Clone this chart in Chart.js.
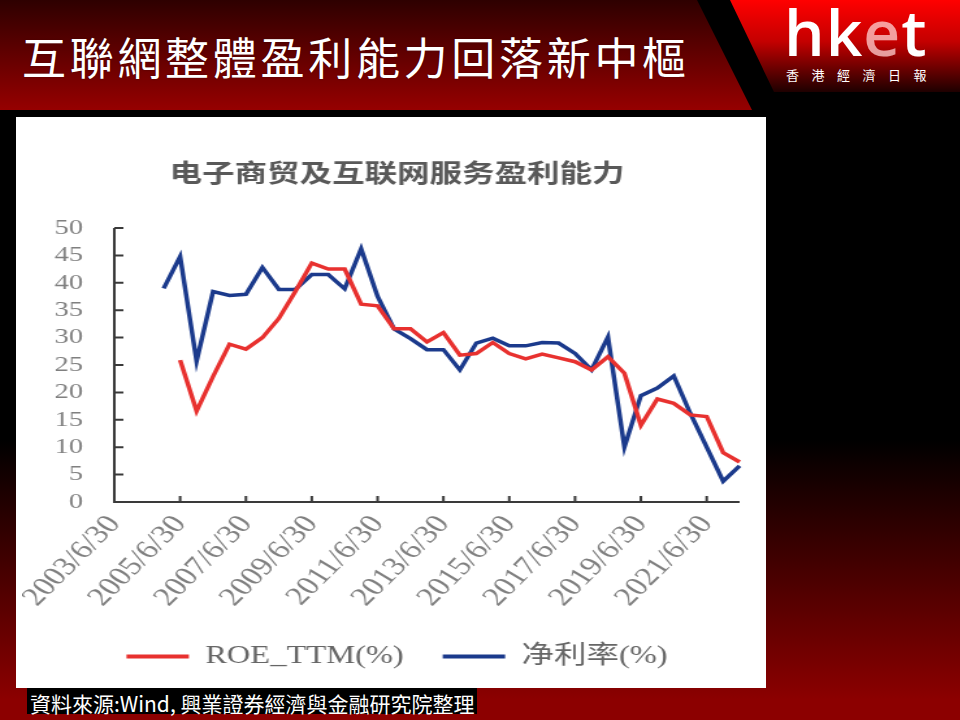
<!DOCTYPE html>
<html>
<head>
<meta charset="utf-8">
<script src="https://cdn.jsdelivr.net/npm/chart.js@4.4.0/dist/chart.umd.min.js"></script>
<style>
  html, body { margin: 0; padding: 0; }
  body {
    width: 960px; height: 720px; position: relative; overflow: hidden;
    background: linear-gradient(to bottom, #000 0px, #000 440px, #8c0000 700px, #8c0000 720px);
  }
  .band {
    position: absolute; left: 0; top: 0; width: 960px; height: 110px;
    clip-path: polygon(0 0, 697px 0, 752px 110px, 0 110px);
    background: linear-gradient(to bottom, #2e0000, #960000);
  }
  .logo-band {
    position: absolute; left: 0; top: 0; width: 960px; height: 92px;
    clip-path: polygon(730px 0, 960px 0, 960px 92px, 774px 92px);
    background: linear-gradient(to bottom, #ff0000 0%, #c40000 45%, #1e0000 100%);
  }
  #headline {
    position: absolute; left: 22px; top: 26px; color: #fff;
    font: 44px "Noto Sans CJK TC", sans-serif; letter-spacing: 3.7px; line-height: 60px;
    text-shadow: 0 0 2px #400;
  }
  #logo {
    position: absolute; left: 784px; top: -8px; color: #fff;
    font: 600 64px "Open Sans", sans-serif; letter-spacing: 1px; line-height: 80px;
  }
  #logo span { color: rgba(255, 210, 210, 0.75); }
  #logo-sub {
    position: absolute; left: 786px; top: 66px; color: #fff;
    font: 13px "Noto Sans CJK TC", sans-serif; letter-spacing: 12.5px; line-height: 18px;
  }
  .panel {
    position: absolute; left: 16px; top: 117px; width: 750px; height: 571px; background: #fff;
  }
  .chart-box {
    position: absolute; left: 22px; top: 117px; width: 577px; height: 562px;
    transform: scaleX(1.3); transform-origin: 0 0;
  }
  #source {
    position: absolute; left: 27px; top: 688px; height: 26px; line-height: 26px;
    background: #000; color: #fff; padding: 0 3px;
    font: 21px "Noto Sans CJK TC", sans-serif;
  }
</style>
</head>
<body>
<div class="band"></div>
<div class="logo-band"></div>
<div id="headline">互聯網整體盈利能力回落新中樞</div>
<div id="logo">hk<span>e</span>t</div>
<div id="logo-sub">香港經濟日報</div>
<div class="panel"></div>
<div class="chart-box"><canvas id="chart" width="577" height="562"></canvas></div>
<div id="source">資料來源:Wind, 興業證券經濟與金融研究院整理</div>

<script>
// semi-annual periods
const categories = [
    "2003/6/30", "2003/12/31", "2004/6/30", "2004/12/31", "2005/6/30", "2005/12/31",
    "2006/6/30", "2006/12/31", "2007/6/30", "2007/12/31", "2008/6/30", "2008/12/31",
    "2009/6/30", "2009/12/31", "2010/6/30", "2010/12/31", "2011/6/30", "2011/12/31",
    "2012/6/30", "2012/12/31", "2013/6/30", "2013/12/31", "2014/6/30", "2014/12/31",
    "2015/6/30", "2015/12/31", "2016/6/30", "2016/12/31", "2017/6/30", "2017/12/31",
    "2018/6/30", "2018/12/31", "2019/6/30", "2019/12/31", "2020/6/30", "2020/12/31",
    "2021/6/30", "2021/12/31", "2022/6/30"
];

// labels printed on the x axis
const tickLabels = [
    "2003/6/30", "2005/6/30", "2007/6/30", "2009/6/30", "2011/6/30",
    "2013/6/30", "2015/6/30", "2017/6/30", "2019/6/30", "2021/6/30"
];

const roeTTM = [
    null, null, null, null, 25.9, 16.6, 22.9, 28.8, 27.9, 30.0, 33.5, 38.4,
    43.6, 42.5, 42.5, 36.1, 35.8, 31.6, 31.6, 29.2, 30.9, 26.8, 27.1, 29.1,
    27.1, 26.1, 27.0, 26.3, 25.6, 24.1, 26.5, 23.5, 14.0, 18.8, 18.0, 15.9,
    15.6, 9.0, 7.3
];

const netMargin = [
    null, null, null, 39.0, 44.8, 25.7, 38.4, 37.7, 37.9, 42.8, 38.8, 38.8,
    41.5, 41.5, 38.9, 46.2, 37.5, 31.6, 29.8, 27.8, 27.8, 24.1, 29.0, 29.9,
    28.5, 28.5, 29.1, 29.0, 27.1, 24.1, 30.1, 10.0, 19.4, 20.8, 23.0, 16.2,
    10.0, 3.8, 6.6
];

const seriesNames = ["ROE_TTM(%)", "净利率(%)"];
const chartTitle = "电子商贸及互联网服务盈利能力";

const serif = "'Liberation Serif', 'Times New Roman', 'Noto Sans CJK SC', serif";

// axes are drawn with inward ticks, as in the source chart
const axisLines = {
    id: "axisLines",
    afterDatasetsDraw(chart) {
        const { ctx, chartArea, scales } = chart;
        const x = scales.x, y = scales.y;
        ctx.save();
        ctx.strokeStyle = "#3a3a3a";
        ctx.lineWidth = 2;
        ctx.beginPath();
        ctx.moveTo(chartArea.left, chartArea.top);
        ctx.lineTo(chartArea.left, chartArea.bottom);
        ctx.lineTo(chartArea.right, chartArea.bottom);
        y.ticks.forEach((t) => {
            const py = y.getPixelForValue(t.value);
            ctx.moveTo(chartArea.left, py);
            ctx.lineTo(chartArea.left + 7, py);
        });
        x.ticks.forEach((t, i) => {
            if (i === 0 || !t.label) return;
            const px = x.getPixelForTick(i);
            ctx.moveTo(px, chartArea.bottom);
            ctx.lineTo(px, chartArea.bottom - 6);
        });
        ctx.stroke();
        ctx.restore();
    }
};

const ctx = document.getElementById("chart").getContext("2d");

new Chart(ctx, {
    type: "line",
    data: {
        labels: categories,
        datasets: [
            {
                label: seriesNames[0],
                data: roeTTM,
                borderColor: "#e8312f",
                backgroundColor: "#e8312f",
                borderWidth: 3.5,
                pointRadius: 0,
                tension: 0
            },
            {
                label: seriesNames[1],
                data: netMargin,
                borderColor: "#1b3a8c",
                backgroundColor: "#1b3a8c",
                borderWidth: 3.5,
                pointRadius: 0,
                tension: 0
            }
        ]
    },
    options: {
        responsive: false,
        animation: false,
        layout: { padding: 0 },
        scales: {
            x: {
                offset: false,
                grid: { display: false, drawTicks: false },
                border: { display: false },
                ticks: {
                    autoSkip: false,
                    minRotation: 52,
                    maxRotation: 52,
                    padding: 8,
                    color: "#808080",
                    font: { family: serif, size: 26 },
                    callback: (val, idx) => tickLabels.includes(categories[idx]) ? categories[idx] : ""
                },
                afterFit: (scale) => {
                    scale.height = 112;
                    scale.paddingLeft = 0;
                    scale.paddingRight = 25;
                }
            },
            y: {
                min: 0,
                max: 50,
                grid: { display: false, drawTicks: false },
                border: { display: false },
                ticks: {
                    stepSize: 5,
                    autoSkip: false,
                    padding: 24,
                    color: "#808080",
                    font: { family: serif, size: 22 }
                },
                afterFit: (scale) => { scale.width = 71; }
            }
        },
        plugins: {
            title: {
                display: true,
                text: chartTitle,
                color: "#595959",
                font: { family: "'Noto Sans CJK SC', sans-serif", size: 25, weight: "bold" },
                padding: { top: 40, bottom: 41 }
            },
            legend: {
                position: "bottom",
                labels: {
                    boxWidth: 48,
                    boxHeight: 4,
                    padding: 30,
                    color: "#666666",
                    font: { family: serif, size: 25 },
                    generateLabels: (chart) => Chart.defaults.plugins.legend.labels.generateLabels(chart)
                        .map((item) => Object.assign(item, { lineWidth: 0 }))
                }
            },
            tooltip: { enabled: false }
        }
    },
    plugins: [axisLines]
});
</script>
</body>
</html>
